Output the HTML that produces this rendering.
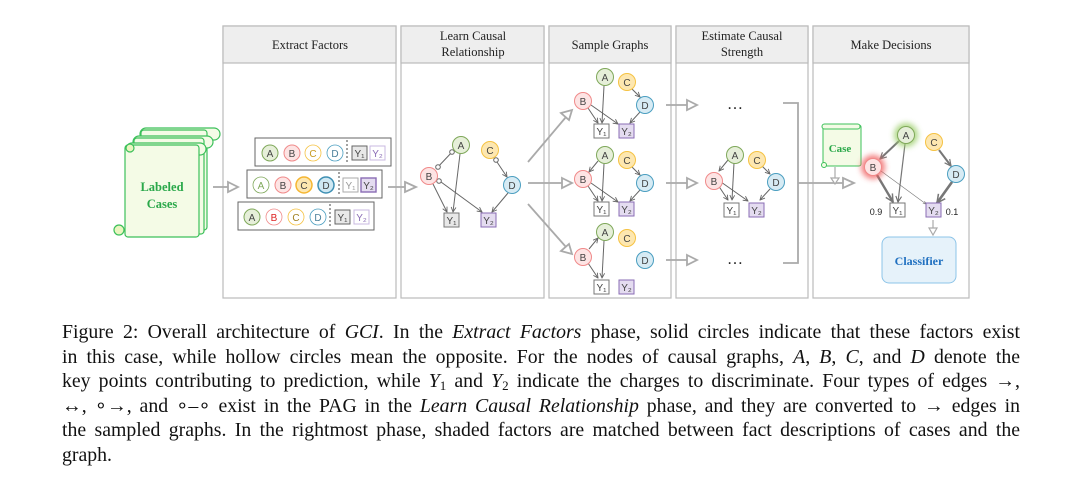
<!DOCTYPE html>
<html><head><meta charset="utf-8"><style>
html,body{margin:0;padding:0;background:#fff;width:1080px;height:501px;overflow:hidden;position:relative}
svg{position:absolute;left:0;top:0}
.cap{position:absolute;left:62px;top:320px;width:958px;font-family:"Liberation Serif",serif;font-size:19.8px;line-height:24.6px;color:#111}
.cap div{text-align:justify;text-align-last:justify;white-space:nowrap;height:24.6px}
.cap div.last{text-align-last:left}
sub{font-size:13px;line-height:0;vertical-align:-3px}
i{font-style:italic}
</style></head><body>
<svg width="1080" height="310" viewBox="0 0 1080 310" font-family="Liberation Sans, sans-serif">
<defs>
<marker id="ar" viewBox="0 0 10 10" refX="9" refY="5" markerWidth="6" markerHeight="6" orient="auto"><path d="M1,1 L9,5 L1,9" fill="none" stroke="#666" stroke-width="1.5"/></marker>
<marker id="arT" viewBox="0 0 10 10" refX="9" refY="5" markerWidth="4" markerHeight="4" orient="auto"><path d="M1,1 L9,5 L1,9" fill="none" stroke="#777" stroke-width="1.5"/></marker>
<filter id="gg" x="-1" y="-1" width="3" height="3"><feGaussianBlur stdDeviation="3"/></filter>
</defs>
<g stroke="#bbb" stroke-width="1.2">
<rect x="223" y="26" width="173" height="272" fill="#fff"/><rect x="223" y="26" width="173" height="37" fill="#eee"/>
<rect x="401" y="26" width="143" height="272" fill="#fff"/><rect x="401" y="26" width="143" height="37" fill="#eee"/>
<rect x="549" y="26" width="122" height="272" fill="#fff"/><rect x="549" y="26" width="122" height="37" fill="#eee"/>
<rect x="676" y="26" width="132" height="272" fill="#fff"/><rect x="676" y="26" width="132" height="37" fill="#eee"/>
<rect x="813" y="26" width="156" height="272" fill="#fff"/><rect x="813" y="26" width="156" height="37" fill="#eee"/>
</g>
<g font-family="Liberation Serif, serif" font-size="12.5" fill="#222" text-anchor="middle">
<text x="310" y="49">Extract Factors</text>
<text x="473" y="40">Learn Causal</text><text x="473" y="56">Relationship</text>
<text x="610" y="49">Sample Graphs</text>
<text x="742" y="40">Estimate Causal</text><text x="742" y="56">Strength</text>
<text x="891" y="49">Make Decisions</text>
</g>
<g stroke="#3cc05a" stroke-width="1.2" fill="#f4fbe6">
<rect x="140" y="128" width="80" height="12" rx="6"/>
<rect x="141" y="130" width="66" height="100" rx="3"/>
<rect x="133" y="136" width="80" height="12" rx="6"/>
<rect x="134" y="138" width="70" height="96" rx="3"/>
<rect x="126" y="143" width="80" height="12" rx="6"/>
<rect x="125" y="145" width="74" height="92" rx="3"/>
<circle cx="119" cy="230" r="5" fill="#eaf5c0"/>
<circle cx="130" cy="148" r="4" fill="#eaf5c0"/>
</g>
<text x="162" y="191" font-family="Liberation Serif, serif" font-weight="bold" font-size="12.5" fill="#2aa84a" text-anchor="middle">Labeled</text>
<text x="162" y="208" font-family="Liberation Serif, serif" font-weight="bold" font-size="12.5" fill="#2aa84a" text-anchor="middle">Cases</text>
<g stroke="#aaa" stroke-width="1.8" fill="#fff">
<line x1="213" y1="187" x2="228" y2="187"/><path d="M228,182 L238,187 L228,192 Z"/>
<line x1="388" y1="187" x2="405" y2="187"/><path d="M405,182 L416,187 L405,192 Z"/>
<line x1="528" y1="162" x2="566" y2="117"/><path d="M561,113 L572,110 L569,120 Z"/>
<line x1="528" y1="183" x2="562" y2="183"/><path d="M562,178 L572,183 L562,188 Z"/>
<line x1="528" y1="204" x2="566" y2="247"/><path d="M561,251 L572,254 L569,244 Z"/>
<line x1="666" y1="105" x2="687" y2="105"/><path d="M687,100 L697,105 L687,110 Z"/>
<line x1="666" y1="183" x2="687" y2="183"/><path d="M687,178 L697,183 L687,188 Z"/>
<line x1="666" y1="260" x2="687" y2="260"/><path d="M687,255 L697,260 L687,265 Z"/>
<path d="M783,103 H798 V263 H783" fill="none"/>
<line x1="798" y1="183" x2="843" y2="183"/><path d="M843,178 L854,183 L843,188 Z"/>
<line x1="835" y1="167" x2="835" y2="178" stroke-width="1.2"/><path d="M831,178 L835,184 L839,178 Z" stroke-width="1.2"/>
<line x1="933" y1="220" x2="933" y2="228" stroke-width="1.2"/><path d="M929,228 L933,235 L937,228 Z" stroke-width="1.2"/>
</g>
<g font-size="16" fill="#222" text-anchor="middle" font-family="Liberation Serif, serif"><text x="735" y="109">…</text><text x="735" y="264">…</text></g>
<g font-size="10" text-anchor="middle">
<rect x="255" y="138" width="136" height="28" fill="#fff" stroke="#666"/>
<circle cx="270" cy="153" r="8" fill="#e6efd9" stroke="#7fa85a"/><text x="270" y="157" fill="#444">A</text>
<circle cx="292" cy="153" r="8" fill="#fde4e4" stroke="#f08a8a"/><text x="292" y="157" fill="#444">B</text>
<circle cx="313" cy="153" r="8" fill="#fff" stroke="#f5c242" stroke-width=".8"/><text x="313" y="157" fill="#c89a20">C</text>
<circle cx="335" cy="153" r="8" fill="#fff" stroke="#4a9ec0" stroke-width=".8"/><text x="335" y="157" fill="#4a7f99">D</text>
<line x1="347" y1="140" x2="347" y2="164" stroke="#444" stroke-dasharray="2,2"/>
<rect x="352" y="146" width="15" height="14" fill="#e8e8e8" stroke="#666"/><text x="359.5" y="157" fill="#444">Y₁</text>
<rect x="370" y="146" width="15" height="14" fill="#fff" stroke="#c9b8e0"/><text x="377.5" y="157" fill="#8a6cb5">Y₂</text>
<rect x="247" y="170" width="135" height="28" fill="#fff" stroke="#666"/>
<circle cx="261" cy="185" r="8" fill="#fff" stroke="#7fa85a" stroke-width=".8"/><text x="261" y="189" fill="#7fa85a">A</text>
<circle cx="283" cy="185" r="8" fill="#fde4e4" stroke="#f08a8a"/><text x="283" y="189" fill="#444">B</text>
<circle cx="304" cy="185" r="8" fill="#fde7b0" stroke="#f5b632" stroke-width="1.5"/><text x="304" y="189" fill="#444">C</text>
<circle cx="326" cy="185" r="8" fill="#cfe8f3" stroke="#3e8fb3" stroke-width="1.5"/><text x="326" y="189" fill="#444">D</text>
<line x1="339" y1="172" x2="339" y2="196" stroke="#444" stroke-dasharray="2,2"/>
<rect x="343" y="178" width="15" height="14" fill="#fff" stroke="#aaa"/><text x="350.5" y="189" fill="#999">Y₁</text>
<rect x="361" y="178" width="15" height="14" fill="#e4dcf0" stroke="#8a6cb5" stroke-width="1.4"/><text x="368.5" y="189" fill="#444">Y₂</text>
<rect x="238" y="202" width="136" height="28" fill="#fff" stroke="#666"/>
<circle cx="252" cy="217" r="8" fill="#e6efd9" stroke="#7fa85a"/><text x="252" y="221" fill="#444">A</text>
<circle cx="274" cy="217" r="8" fill="#fff" stroke="#f08a8a" stroke-width=".8"/><text x="274" y="221" fill="#d22">B</text>
<circle cx="296" cy="217" r="8" fill="#fff" stroke="#f5c242" stroke-width=".8"/><text x="296" y="221" fill="#a08020">C</text>
<circle cx="318" cy="217" r="8" fill="#fff" stroke="#4a9ec0" stroke-width=".8"/><text x="318" y="221" fill="#4a7f99">D</text>
<line x1="330" y1="204" x2="330" y2="228" stroke="#444" stroke-dasharray="2,2"/>
<rect x="335" y="210" width="15" height="14" fill="#e8e8e8" stroke="#666"/><text x="342.5" y="221" fill="#444">Y₁</text>
<rect x="354" y="210" width="15" height="14" fill="#fff" stroke="#c9b8e0"/><text x="361.5" y="221" fill="#8a6cb5">Y₂</text>
</g>
<g stroke="#666" stroke-width="1" fill="none">
<line x1="453" y1="151" x2="436" y2="169"/>
<line x1="460" y1="154" x2="453" y2="212" marker-end="url(#ar)"/>
<line x1="433" y1="184" x2="447" y2="212" marker-end="url(#ar)"/>
<line x1="441" y1="182" x2="482" y2="212" marker-end="url(#ar)"/>
<line x1="497" y1="162" x2="507" y2="177" marker-end="url(#ar)"/>
<line x1="508" y1="193" x2="492" y2="212" marker-end="url(#ar)"/>
<circle cx="452" cy="152" r="2.3" fill="#fff"/><circle cx="438" cy="167" r="2.3" fill="#fff"/>
<circle cx="439" cy="181" r="2.3" fill="#fff"/><circle cx="496" cy="160" r="2.3" fill="#fff"/>
</g>
<g font-size="10" text-anchor="middle">
<circle cx="461" cy="145" r="8.5" fill="#e6efd9" stroke="#7fa85a"/><text x="461" y="149" fill="#444">A</text>
<circle cx="490" cy="150" r="8.5" fill="#fde7b0" stroke="#f5c242"/><text x="490" y="154" fill="#444">C</text>
<circle cx="429" cy="176" r="8.5" fill="#fde4e4" stroke="#f08a8a"/><text x="429" y="180" fill="#444">B</text>
<circle cx="512" cy="185" r="8.5" fill="#d7ebf4" stroke="#4a9ec0"/><text x="512" y="189" fill="#444">D</text>
<rect x="444" y="213" width="15" height="14" fill="#e8e8e8" stroke="#777"/><text x="451.5" y="224" fill="#444">Y₁</text>
<rect x="481" y="213" width="15" height="14" fill="#e4dcf0" stroke="#8a6cb5"/><text x="488.5" y="224" fill="#444">Y₂</text>
</g>
<g>
<g stroke="#666" stroke-width="1" fill="none">
<line x1="588" y1="108" x2="598" y2="123" marker-end="url(#ar)"/>
<line x1="591" y1="105" x2="618" y2="124" marker-end="url(#ar)"/>
<line x1="604" y1="86" x2="602" y2="123" marker-end="url(#ar)"/>
<line x1="632" y1="89" x2="640" y2="97" marker-end="url(#ar)"/>
<line x1="640" y1="112" x2="630" y2="123" marker-end="url(#ar)"/>
</g>
<g font-size="10" text-anchor="middle">
<circle cx="605" cy="77" r="8.5" fill="#e6efd9" stroke="#7fa85a"/><text x="605" y="81" fill="#444">A</text>
<circle cx="627" cy="82" r="8.5" fill="#fde7b0" stroke="#f5c242"/><text x="627" y="86" fill="#444">C</text>
<circle cx="583" cy="101" r="8.5" fill="#fde4e4" stroke="#f08a8a"/><text x="583" y="105" fill="#444">B</text>
<circle cx="645" cy="105" r="8.5" fill="#d7ebf4" stroke="#4a9ec0"/><text x="645" y="109" fill="#444">D</text>
<rect x="594" y="124" width="15" height="14" fill="#fff" stroke="#777"/><text x="601.5" y="135" fill="#444">Y₁</text>
<rect x="619" y="124" width="15" height="14" fill="#e4dcf0" stroke="#8a6cb5"/><text x="626.5" y="135" fill="#444">Y₂</text>
</g>
</g>
<g transform="translate(0,78)">
<g stroke="#666" stroke-width="1" fill="none">
<line x1="598" y1="83" x2="589" y2="94" marker-end="url(#ar)"/>
<line x1="588" y1="108" x2="598" y2="123" marker-end="url(#ar)"/>
<line x1="591" y1="105" x2="618" y2="124" marker-end="url(#ar)"/>
<line x1="604" y1="86" x2="602" y2="123" marker-end="url(#ar)"/>
<line x1="632" y1="89" x2="640" y2="97" marker-end="url(#ar)"/>
<line x1="640" y1="112" x2="630" y2="123" marker-end="url(#ar)"/>
</g>
<g font-size="10" text-anchor="middle">
<circle cx="605" cy="77" r="8.5" fill="#e6efd9" stroke="#7fa85a"/><text x="605" y="81" fill="#444">A</text>
<circle cx="627" cy="82" r="8.5" fill="#fde7b0" stroke="#f5c242"/><text x="627" y="86" fill="#444">C</text>
<circle cx="583" cy="101" r="8.5" fill="#fde4e4" stroke="#f08a8a"/><text x="583" y="105" fill="#444">B</text>
<circle cx="645" cy="105" r="8.5" fill="#d7ebf4" stroke="#4a9ec0"/><text x="645" y="109" fill="#444">D</text>
<rect x="594" y="124" width="15" height="14" fill="#fff" stroke="#777"/><text x="601.5" y="135" fill="#444">Y₁</text>
<rect x="619" y="124" width="15" height="14" fill="#e4dcf0" stroke="#8a6cb5"/><text x="626.5" y="135" fill="#444">Y₂</text>
</g>
</g>
<g transform="translate(0,155)">
<g stroke="#666" stroke-width="1" fill="none">
<line x1="589" y1="94" x2="598" y2="83" marker-end="url(#ar)"/>
<line x1="588" y1="108" x2="598" y2="123" marker-end="url(#ar)"/>
<line x1="604" y1="86" x2="602" y2="123" marker-end="url(#ar)"/>
</g>
<g font-size="10" text-anchor="middle">
<circle cx="605" cy="77" r="8.5" fill="#e6efd9" stroke="#7fa85a"/><text x="605" y="81" fill="#444">A</text>
<circle cx="627" cy="83" r="8.5" fill="#fde7b0" stroke="#f5c242"/><text x="627" y="87" fill="#444">C</text>
<circle cx="583" cy="102" r="8.5" fill="#fde4e4" stroke="#f08a8a"/><text x="583" y="106" fill="#444">B</text>
<circle cx="645" cy="105" r="8.5" fill="#d7ebf4" stroke="#4a9ec0"/><text x="645" y="109" fill="#444">D</text>
<rect x="594" y="125" width="15" height="14" fill="#fff" stroke="#777"/><text x="601.5" y="136" fill="#444">Y₁</text>
<rect x="619" y="125" width="15" height="14" fill="#e4dcf0" stroke="#8a6cb5"/><text x="626.5" y="136" fill="#444">Y₂</text>
</g>
</g>
<g transform="translate(130,77)">
<g stroke="#666" stroke-width="1" fill="none">
<line x1="598" y1="83" x2="589" y2="94" marker-end="url(#ar)"/>
<line x1="588" y1="108" x2="598" y2="123" marker-end="url(#ar)"/>
<line x1="591" y1="105" x2="618" y2="124" marker-end="url(#ar)"/>
<line x1="604" y1="86" x2="602" y2="123" marker-end="url(#ar)"/>
<line x1="632" y1="89" x2="640" y2="97" marker-end="url(#ar)"/>
<line x1="640" y1="112" x2="630" y2="123" marker-end="url(#ar)"/>
</g>
<g font-size="10" text-anchor="middle">
<circle cx="605" cy="78" r="8.5" fill="#e6efd9" stroke="#7fa85a"/><text x="605" y="82" fill="#444">A</text>
<circle cx="627" cy="83" r="8.5" fill="#fde7b0" stroke="#f5c242"/><text x="627" y="87" fill="#444">C</text>
<circle cx="584" cy="104" r="8.5" fill="#fde4e4" stroke="#f08a8a"/><text x="584" y="108" fill="#444">B</text>
<circle cx="646" cy="105" r="8.5" fill="#d7ebf4" stroke="#4a9ec0"/><text x="646" y="109" fill="#444">D</text>
<rect x="594" y="126" width="15" height="14" fill="#fff" stroke="#777"/><text x="601.5" y="137" fill="#444">Y₁</text>
<rect x="619" y="126" width="15" height="14" fill="#e4dcf0" stroke="#8a6cb5"/><text x="626.5" y="137" fill="#444">Y₂</text>
</g>
</g>
<g stroke="#3cc05a" stroke-width="1" fill="#f4fbe6">
<rect x="823" y="125" width="38" height="41" rx="2"/>
<rect x="822" y="124" width="38" height="5" rx="2.5"/>
<circle cx="824" cy="165" r="2.5"/>
</g>
<text x="840" y="152" font-family="Liberation Serif, serif" font-weight="bold" font-size="11" fill="#2aa84a" text-anchor="middle">Case</text>
<g stroke="#777" fill="none">
<line x1="899" y1="141" x2="880" y2="159" stroke-width="2" marker-end="url(#arT)"/>
<line x1="905" y1="144" x2="898" y2="202" stroke-width="1.2" marker-end="url(#ar)"/>
<line x1="877" y1="175" x2="893" y2="202" stroke-width="2.4" marker-end="url(#arT)"/>
<line x1="881" y1="171" x2="926" y2="204" stroke-width=".6" marker-end="url(#ar)"/>
<line x1="939" y1="150" x2="951" y2="166" stroke-width="2" marker-end="url(#arT)"/>
<line x1="952" y1="182" x2="937" y2="203" stroke-width="2.6" marker-end="url(#arT)"/>
</g>
<circle cx="906" cy="135" r="12" fill="#9ccf6a" filter="url(#gg)" opacity=".8"/>
<circle cx="873" cy="167" r="12" fill="#f06060" filter="url(#gg)" opacity=".8"/>
<g font-size="10" text-anchor="middle">
<circle cx="906" cy="135" r="8.5" fill="#e6efd9" stroke="#7fa85a"/><text x="906" y="139" fill="#444">A</text>
<circle cx="934" cy="142" r="8.5" fill="#fde7b0" stroke="#f5c242"/><text x="934" y="146" fill="#444">C</text>
<circle cx="873" cy="167" r="8.5" fill="#fde4e4" stroke="#f08a8a"/><text x="873" y="171" fill="#444">B</text>
<circle cx="956" cy="174" r="8.5" fill="#d7ebf4" stroke="#4a9ec0"/><text x="956" y="178" fill="#444">D</text>
<rect x="890" y="203" width="15" height="14" fill="#fff" stroke="#777"/><text x="897.5" y="214" fill="#444">Y₁</text>
<rect x="926" y="203" width="15" height="14" fill="#e4dcf0" stroke="#8a6cb5"/><text x="933.5" y="214" fill="#444">Y₂</text>
<text x="876" y="215" font-size="9" fill="#222">0.9</text>
<text x="952" y="215" font-size="9" fill="#222">0.1</text>
</g>
<rect x="882" y="237" width="74" height="46" rx="7" fill="#e6f2fa" stroke="#8cc4e8"/>
<text x="919" y="265" font-family="Liberation Serif, serif" font-weight="bold" font-size="12" fill="#2070c0" text-anchor="middle">Classifier</text>
</svg>
<div class="cap">
<div>Figure 2: Overall architecture of <i>GCI</i>. In the <i>Extract Factors</i> phase, solid circles indicate that these factors exist</div>
<div>in this case, while hollow circles mean the opposite. For the nodes of causal graphs, <i>A</i>, <i>B</i>, <i>C</i>, and <i>D</i> denote the</div>
<div>key points contributing to prediction, while <i>Y</i><sub>1</sub> and <i>Y</i><sub>2</sub> indicate the charges to discriminate. Four types of edges →,</div>
<div>↔, ∘→, and ∘–∘ exist in the PAG in the <i>Learn Causal Relationship</i> phase, and they are converted to → edges in</div>
<div>the sampled graphs. In the rightmost phase, shaded factors are matched between fact descriptions of cases and the</div>
<div class="last">graph.</div>
</div>
</body></html>
